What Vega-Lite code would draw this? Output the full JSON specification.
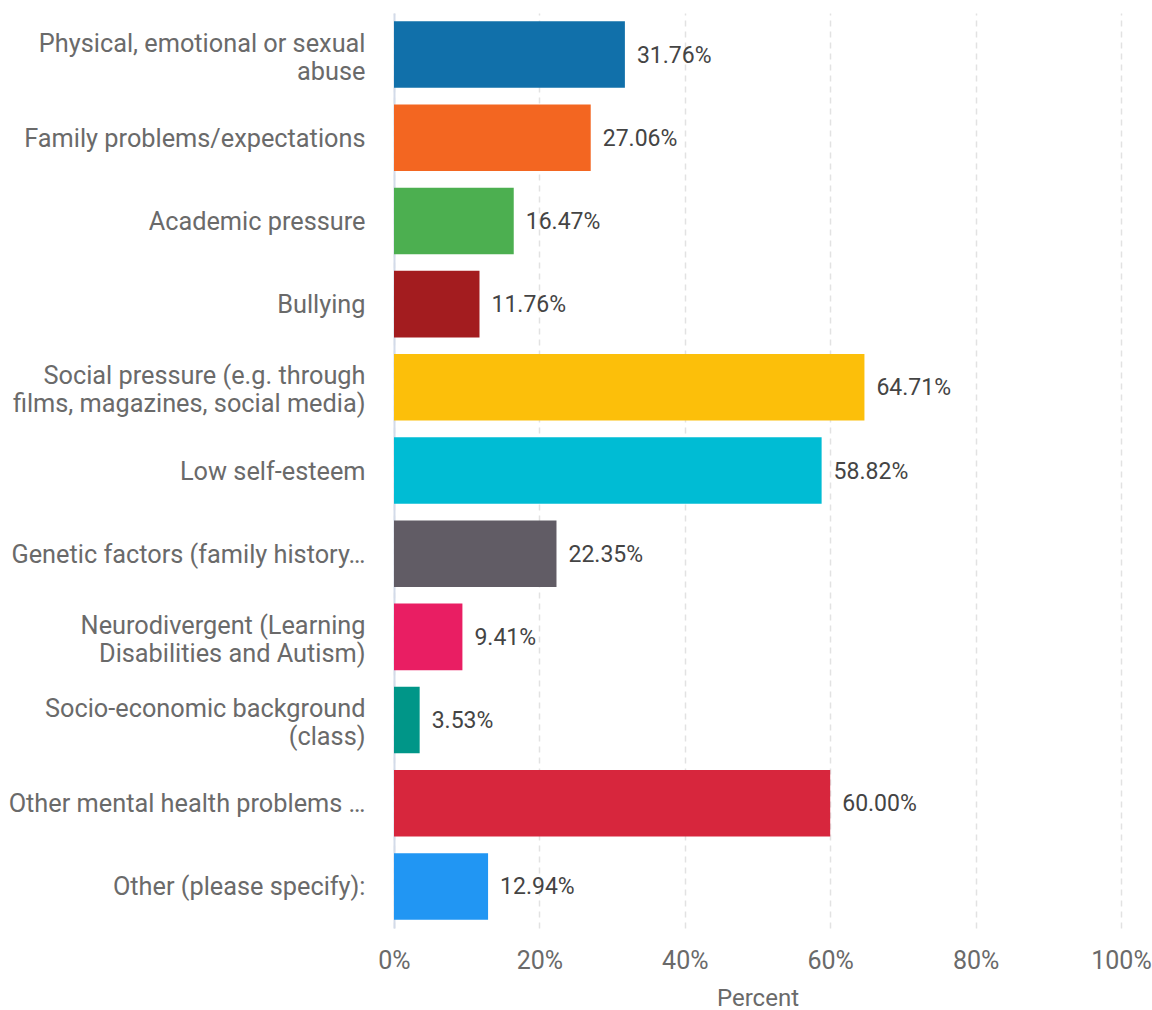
{
  "$schema": "https://vega.github.io/schema/vega-lite/v6.json",
  "width": 727,
  "height": 915,
  "autosize": {"type": "none"},
  "padding": {"left": 394, "top": 13, "right": 31, "bottom": 82},
  "background": "white",
  "config": {"view": {"stroke": null}, "font": "Roboto"},
  "data": {
    "values": [
      {"order": 1, "label": "Physical, emotional or sexual|abuse", "value": 31.76, "color": "#1170aa"},
      {"order": 2, "label": "Family problems/expectations", "value": 27.06, "color": "#f36621"},
      {"order": 3, "label": "Academic pressure", "value": 16.47, "color": "#4caf50"},
      {"order": 4, "label": "Bullying", "value": 11.76, "color": "#a31c1f"},
      {"order": 5, "label": "Social pressure (e.g. through|films, magazines, social media)", "value": 64.71, "color": "#fcbf0a"},
      {"order": 6, "label": "Low self-esteem", "value": 58.82, "color": "#00bcd4"},
      {"order": 7, "label": "Genetic factors (family history…", "value": 22.35, "color": "#615c65"},
      {"order": 8, "label": "Neurodivergent (Learning|Disabilities and Autism)", "value": 9.41, "color": "#e91e63"},
      {"order": 9, "label": "Socio-economic background|(class)", "value": 3.53, "color": "#009688"},
      {"order": 10, "label": "Other mental health problems …", "value": 60.0, "color": "#d7263d"},
      {"order": 11, "label": "Other (please specify):", "value": 12.94, "color": "#2196f3"}
    ]
  },
  "encoding": {
    "y": {
      "field": "label",
      "type": "nominal",
      "sort": {"field": "order", "op": "min"},
      "scale": {"paddingInner": 0.2, "paddingOuter": 0.1},
      "axis": {
        "title": null,
        "labelExpr": "split(datum.label, '|')",
        "labelFont": "Roboto",
        "labelFontSize": 25.3,
        "labelColor": "#6a6a6a",
        "labelLineHeight": 28,
        "labelPadding": 29,
        "labelLimit": 400,
        "labelOffset": {"condition": {"test": "indexof(datum.value, '|') >= 0", "value": -11}, "value": 1},
        "ticks": false,
        "domain": true,
        "domainColor": "#d3dbe9",
        "domainWidth": 2,
        "grid": false
      }
    }
  },
  "layer": [
    {
      "mark": {"type": "bar"},
      "encoding": {
        "x": {
          "field": "value",
          "type": "quantitative",
          "scale": {"domain": [0, 100], "nice": false},
          "axis": {
            "title": "Percent",
            "titleFont": "Roboto",
            "titleFontSize": 24,
            "titleFontWeight": "normal",
            "titleColor": "#6a6a6a",
            "titlePadding": 13,
            "values": [0, 20, 40, 60, 80, 100],
            "labelExpr": "datum.value + '%'",
            "labelFont": "Roboto",
            "labelFontSize": 25,
            "labelColor": "#6a6a6a",
            "labelPadding": 20,
            "labelFlush": false,
            "ticks": false,
            "domain": false,
            "grid": true,
            "gridColor": "#e2e2e2",
            "gridDash": [6, 5],
            "gridWidth": 1.5
          }
        },
        "color": {"field": "color", "type": "nominal", "scale": null, "legend": null}
      }
    },
    {
      "mark": {"type": "text", "align": "left", "baseline": "middle", "dx": 12, "dy": 1, "font": "Roboto", "fontSize": 23, "color": "#444444", "text": {"expr": "format(datum.value, '.2f') + '%'"}},
      "encoding": {
        "x": {"field": "value", "type": "quantitative"}
      }
    }
  ]
}
